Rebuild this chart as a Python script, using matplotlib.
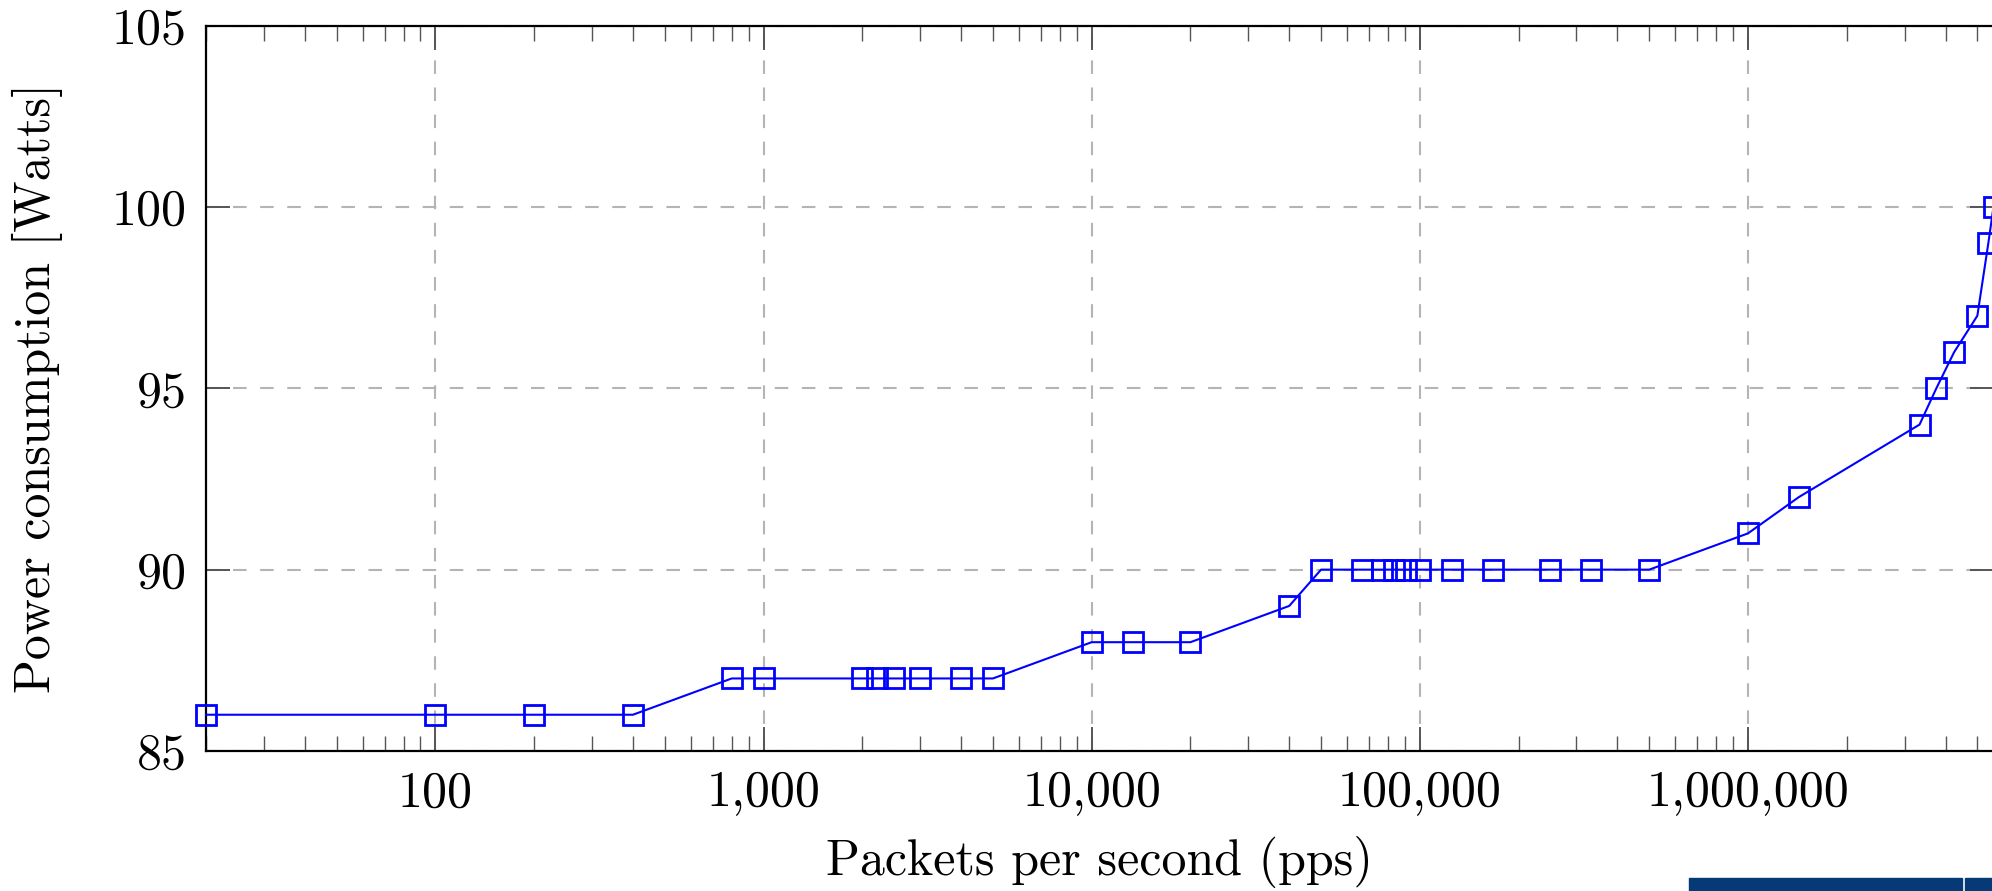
import matplotlib
matplotlib.use('Agg')

import matplotlib.pyplot as plt
from matplotlib.patches import Rectangle
from matplotlib.ticker import FixedLocator, FuncFormatter, LogLocator, NullFormatter

# packets per second and measured power
pps = [20, 100, 200, 400, 800, 1000, 2000, 2222, 2500, 3000, 4000, 5000,
       10000, 13333, 20000, 40000, 50000, 66667, 76923, 83333, 90909, 100000,
       125000, 166667, 250000, 333333, 500000, 1000000, 1428571, 3333333,
       3750000, 4250000, 5000000, 5400000, 5600000]
watts = [86, 86, 86, 86, 87, 87, 87, 87, 87, 87, 87, 87,
         88, 88, 88, 89, 90, 90, 90, 90, 90, 90,
         90, 90, 90, 90, 90, 91, 92, 94,
         95, 96, 97, 99, 100]

xticks = [100, 1000, 10000, 100000, 1000000]
yticks = [85, 90, 95, 100, 105]

plt.rcParams['font.family'] = ['cmr10', 'DejaVu Serif']
plt.rcParams['axes.formatter.use_mathtext'] = True

W, H = 1992, 891
fig = plt.figure(figsize=(W / 100, H / 100), dpi=100)
ax = fig.add_axes([206 / W, 1 - 751 / H, (1993.5 - 206) / W, (751 - 25.6) / H])

ax.plot(pps, watts, color='#0000ff', lw=1.5, marker='s', ms=14.4,
        mfc='none', mec='#0000ff', mew=2.0, clip_on=False, zorder=5)

ax.set_xscale('log')
ax.set_xlim(20, 5600000)
ax.set_ylim(85, 105)

ax.xaxis.set_major_locator(FixedLocator(xticks))
ax.xaxis.set_major_formatter(FuncFormatter(lambda v, p: '{:,}'.format(int(round(v)))))
ax.xaxis.set_minor_locator(LogLocator(base=10, subs=range(2, 10), numticks=50))
ax.xaxis.set_minor_formatter(NullFormatter())
ax.yaxis.set_major_locator(FixedLocator(yticks))
ax.yaxis.set_major_formatter(FuncFormatter(lambda v, p: '%d' % v))

ax.tick_params(which='both', direction='in', top=True, right=True,
               labelsize=36, color='#555555')
ax.tick_params(which='major', length=17, width=1.4, pad=14)
ax.tick_params(which='minor', length=11, width=1.0)
ax.tick_params(axis='y', pad=14)

ax.grid(True, which='major', color='#b4b4b4', lw=1.5, ls=(0, (6.5, 6.5)))
ax.set_axisbelow(True)

for s in ax.spines.values():
    s.set_linewidth(1.6)
    s.set_color('black')

fig.text(37 / W, 1 - 388 / H, 'Power consumption [Watts]', rotation=90,
         ha='center', va='center', fontsize=36)
fig.text(1099 / W, 1 - 862 / H, 'Packets per second (pps)',
         ha='center', va='center', fontsize=36)

# footer strip at the bottom right
fig.patches.append(Rectangle((1689 / W, 0), (1962 - 1689) / W, 13 / H,
                             transform=fig.transFigure, color='#063a77', zorder=10))
fig.patches.append(Rectangle((1964.5 / W, 0), (W - 1964.5) / W, 13 / H,
                             transform=fig.transFigure, color='#063a77', zorder=10))

fig.savefig('out.png', dpi=100)
